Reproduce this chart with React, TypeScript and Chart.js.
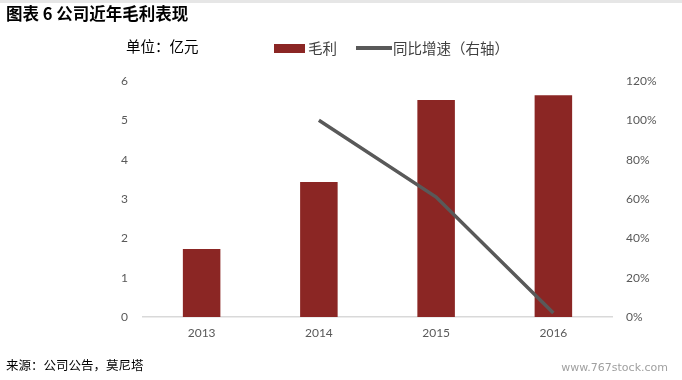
import React, { useEffect, useRef } from "react";
import { Chart, registerables } from "chart.js";

Chart.register(...registerables);

const categories = ["2013", "2014", "2015", "2016"];
const grossProfit = [1.73, 3.43, 5.52, 5.64];
const yoyGrowth = [null, 100, 61, 2];
const leftTicks = [0, 1, 2, 3, 4, 5, 6];
const rightTicks = [0, 20, 40, 60, 80, 100, 120];

const BAR = "#8B2624";
const LINE = "#595959";
const TICK_FONT = { family: "Lato, 'Noto Sans', sans-serif", size: 12 };

export default function App() {
  const ref = useRef<HTMLCanvasElement | null>(null);

  useEffect(() => {
    if (!ref.current) return;
    const chart = new Chart(ref.current, {
      type: "bar",
      data: {
        labels: categories,
        datasets: [
          {
            type: "line",
            label: "同比增速（右轴）",
            data: yoyGrowth as any,
            yAxisID: "y1",
            borderColor: LINE,
            backgroundColor: LINE,
            borderWidth: 3.5,
            pointRadius: 0,
            tension: 0,
            spanGaps: false,
            order: 0,
          },
          {
            type: "bar",
            label: "毛利",
            data: grossProfit,
            yAxisID: "y",
            backgroundColor: BAR,
            borderWidth: 0,
            categoryPercentage: 1,
            barPercentage: 0.32,
            order: 1,
          },
        ],
      },
      options: {
        responsive: false,
        animation: false,
        layout: { padding: { left: 0, right: 0, top: 81, bottom: 33 } },
        plugins: { legend: { display: false }, tooltip: { enabled: false } },
        scales: {
          x: {
            grid: { display: false, drawTicks: false },
            border: { display: true, color: "#D9D9D9", width: 1.5 },
            ticks: { color: "#595959", font: TICK_FONT, padding: 9 },
            afterFit: (s: any) => {
              s.height = 30;
            },
          },
          y: {
            position: "left",
            min: 0,
            max: 6,
            afterBuildTicks: (s: any) => {
              s.ticks = leftTicks.map((v) => ({ value: v }));
            },
            grid: { display: false, drawTicks: false },
            border: { display: false },
            ticks: { color: "#595959", font: TICK_FONT, padding: 15 },
            afterFit: (s: any) => {
              s.width = 143;
            },
          },
          y1: {
            position: "right",
            min: 0,
            max: 120,
            afterBuildTicks: (s: any) => {
              s.ticks = rightTicks.map((v) => ({ value: v }));
            },
            grid: { display: false, drawTicks: false },
            border: { display: false },
            ticks: {
              color: "#595959",
              font: TICK_FONT,
              padding: 14,
              callback: (v: any) => v + "%",
            },
            afterFit: (s: any) => {
              s.width = 70;
            },
          },
        },
      },
    });
    return () => chart.destroy();
  }, []);

  const cjk = "'Noto Sans CJK SC', 'Noto Sans', sans-serif";

  return (
    <div
      style={{
        position: "absolute",
        left: 0,
        top: 0,
        width: 682,
        height: 380,
        background: "#fff",
        overflow: "hidden",
        fontFamily: cjk,
      }}
    >
      <div style={{ position: "absolute", left: 0, top: 0, width: 682, height: 3, background: "#E6E6E6" }} />
      <canvas ref={ref} width={682} height={380} style={{ position: "absolute", left: 0, top: 0 }} />
      <div
        style={{
          position: "absolute",
          left: 6,
          top: 2,
          fontSize: 16.5,
          fontWeight: 700,
          color: "#000",
          lineHeight: "22px",
          whiteSpace: "nowrap",
        }}
      >
        图表 6 公司近年毛利表现
      </div>
      <div
        style={{
          position: "absolute",
          left: 126,
          top: 36,
          fontSize: 14.5,
          color: "#000",
          lineHeight: "20px",
          whiteSpace: "nowrap",
        }}
      >
        单位：亿元
      </div>
      <div style={{ position: "absolute", left: 274, top: 44, width: 31, height: 9, background: BAR }} />
      <div
        style={{
          position: "absolute",
          left: 308,
          top: 38,
          fontSize: 14.5,
          color: "#404040",
          lineHeight: "20px",
          whiteSpace: "nowrap",
        }}
      >
        毛利
      </div>
      <div style={{ position: "absolute", left: 356, top: 46, width: 36, height: 4, background: LINE }} />
      <div
        style={{
          position: "absolute",
          left: 393,
          top: 38,
          fontSize: 14.5,
          color: "#404040",
          lineHeight: "20px",
          whiteSpace: "nowrap",
        }}
      >
        同比增速（右轴）
      </div>
      <div
        style={{
          position: "absolute",
          left: 6,
          top: 356,
          fontSize: 12.5,
          color: "#000",
          lineHeight: "18px",
          whiteSpace: "nowrap",
        }}
      >
        来源：公司公告，莫尼塔
      </div>
      <div
        style={{
          position: "absolute",
          right: 14,
          top: 360,
          fontSize: 11,
          color: "#A0A0A0",
          lineHeight: "15px",
          fontFamily: "'DejaVu Sans', sans-serif",
          whiteSpace: "nowrap",
        }}
      >
        www.767stock.com
      </div>
    </div>
  );
}
